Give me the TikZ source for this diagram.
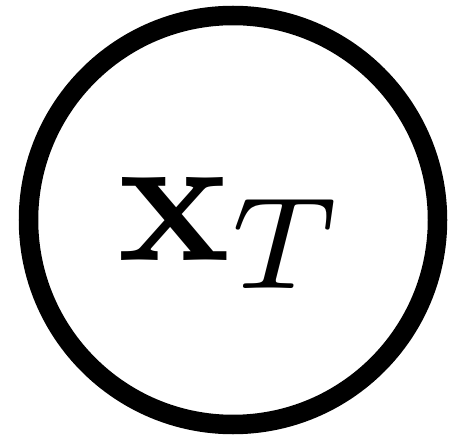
\documentclass[tikz,border=0pt]{standalone}
\usepackage{amsmath,amssymb}
\usepackage{graphicx}
\usepackage{tikz}

\newcommand{\bigvar}[1]{\raisebox{-12.5pt}[\height][\depth]{\scalebox{18.7}{#1}}}

\begin{document}
\begin{tikzpicture}[
      x=1pt, y=-1pt,
      var/.style={draw, circle, line width=19.5pt, minimum size=409pt,
                  inner sep=0pt}
    ]
    \useasboundingbox (0,0) rectangle (452,438);
    % latent variable
    \node[var] (xT) at (233,220) {\bigvar{$\mathbf{x}_T$}};
  \end{tikzpicture}
\end{document}
